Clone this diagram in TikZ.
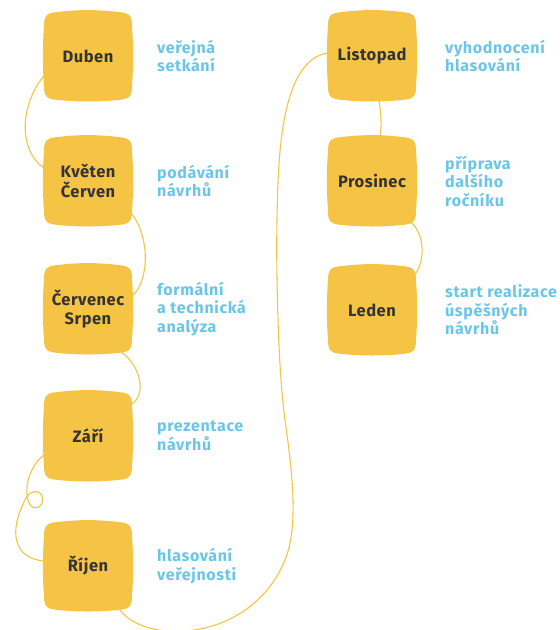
\documentclass[tikz,border=0pt]{standalone}
\usepackage{fontspec}
\setmainfont{Fira Sans}
\newfontfamily\monthfont[LetterSpace=3]{Fira Sans}
\newfontfamily\notefont[LetterSpace=4]{Fira Sans}
\usetikzlibrary{calc}
\definecolor{boxyellow}{RGB}{245,196,69}
\definecolor{labelblue}{RGB}{106,198,232}
\definecolor{boxtext}{RGB}{51,51,51}
\pgfdeclarelayer{bg}
\pgfdeclarelayer{mid}
\pgfsetlayers{bg,mid,main}
\tikzset{
  month/.style={minimum width=88pt, minimum height=88pt, inner sep=0pt, align=center,
    text=boxtext, font=\monthfont\bfseries\fontsize{16.5}{19.5}\selectfont},
  note/.style={anchor=west, inner sep=0pt, align=left, text=labelblue,
    font=\notefont\bfseries\fontsize{16}{18.5}\selectfont},
  link/.style={draw=boxyellow, line width=1.1pt},
  squircle/.style={fill=boxyellow}
}
\begin{document}
\begin{tikzpicture}[x=1pt,y=-1pt]
\useasboundingbox (0,0) rectangle (560,630);
% months
\node[month] (duben)    at (88,56)   {Duben};
\node[month] (kveten)   at (88,181)  {Květen\\Červen};
\node[month] (cervenec) at (88,309)  {Červenec\\Srpen};
\node[month] (zari)     at (88,436)  {Září};
\node[month] (rijen)    at (88,566)  {Říjen};
\node[month] (listopad) at (372,56)  {Listopad};
\node[month] (prosinec) at (372,181) {Prosinec};
\node[month] (leden)    at (372,310) {Leden};
% notes
\node[note] (n1) at (157,56)  {veřejná\\setkání};
\node[note] (n2) at (157,181) {podávání\\návrhů};
\node[note] (n3) at (157,309) {formální\\a technická\\analýza};
\node[note] (n4) at (157,436) {prezentace\\návrhů};
\node[note] (n5) at (157,566) {hlasování\\veřejnosti};
\node[note] (n6) at (445,56)  {vyhodnocení\\hlasování};
\node[note] (n7) at (445,181) {příprava\\dalšího\\ročníku};
\node[note] (n8) at (445,310) {start realizace\\úspěšných\\návrhů};
% box shapes
\begin{pgfonlayer}{mid}
\foreach \n in {duben,kveten,cervenec,zari,rijen,listopad,prosinec,leden}{
  \path[squircle,shift={(\n.center)}]
    (-30,-44) .. controls (-10,-46.5) and (10,-46.5) .. (30,-44)
    .. controls (41,-43) and (44,-41) .. (44,-30)
    .. controls (45.5,-10) and (45.5,10) .. (44,30)
    .. controls (44,41) and (41,43) .. (30,44)
    .. controls (10,46) and (-10,46) .. (-30,44)
    .. controls (-41,43) and (-44,41) .. (-44,30)
    .. controls (-45.5,10) and (-45.5,-10) .. (-44,-30)
    .. controls (-44,-41) and (-41,-43) .. (-30,-44) -- cycle;
}
\end{pgfonlayer}
% connectors
\begin{pgfonlayer}{bg}
\draw[link] ($(duben.west)+(0,20)$) .. controls (20,105) and (18,150) .. ($(kveten.west)+(0,-13)$);
\draw[link] ($(kveten.east)+(-2,31)$) .. controls (150,235) and (150,280) .. ($(cervenec.east)+(0,-13)$);
\draw[link] ($(cervenec.east)+(-11,43)$) .. controls (140,365) and (148,395) .. ($(zari.east)+(-2,-31)$);
\draw[link] ($(zari.west)+(0,19)$) .. controls (30,465) and (22,490) .. (30,505)
   .. controls (36,512) and (45,505) .. (42,496)
   .. controls (39,489) and (28,490) .. (24,502)
   .. controls (10,530) and (12,558) .. ($(rijen.west)+(0,-5)$);
\draw[link] ($(rijen.south east)+(-14,-3)$) .. controls (140,645) and (250,645) .. (285,560)
   .. controls (299,526) and (292,470) .. (285,420)
   .. controls (278,370) and (276,270) .. (277,220)
   .. controls (278,160) and (280,60) .. ($(listopad.west)+(0,-3)$);
\draw[link] ($(listopad.south)+(7,0)$) .. controls (381,115) and (382,125) .. ($(prosinec.north)+(8,0)$);
\draw[link] ($(prosinec.south east)+(-5,-3)$) .. controls (425,235) and (425,262) .. ($(leden.north east)+(-1,8)$);
\end{pgfonlayer}
\end{tikzpicture}
\end{document}
